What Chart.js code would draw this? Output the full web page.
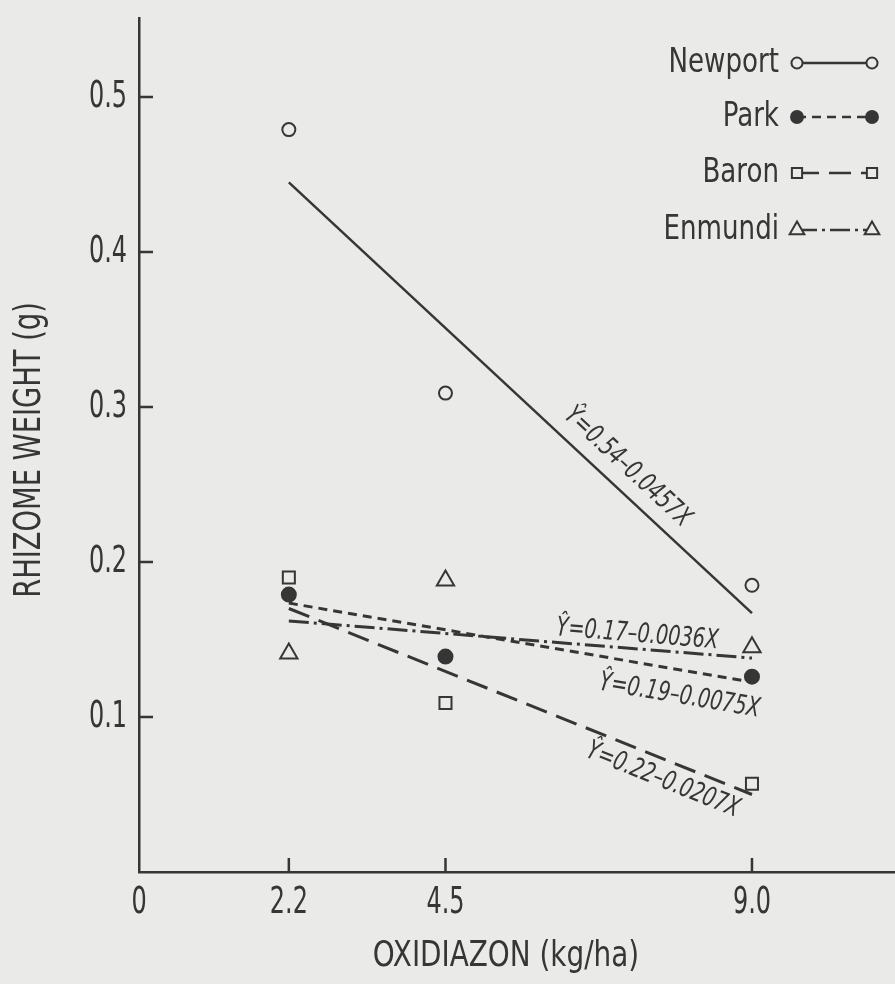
<!DOCTYPE html>
<html>
<head>
<meta charset="utf-8">
<title>Rhizome weight vs oxidiazon rate</title>
<script src="https://cdn.jsdelivr.net/npm/chart.js@4.4.1/dist/chart.umd.min.js"></script>
<style>
  html, body { margin: 0; padding: 0; background: #eaeae8; }
  #rhizome-chart { display: block; }
</style>
</head>
<body>
<canvas id="rhizome-chart" width="895" height="984"></canvas>
<script>
const cultivars = ['Newport', 'Park', 'Baron', 'Enmundi'];
const doses = [2.2, 4.5, 9.0];
const newport = [0.479, 0.309, 0.185];
const park = [0.179, 0.139, 0.126];
const baron = [0.190, 0.109, 0.057];
const enmundi = [0.141, 0.188, 0.145];

// fitted lines, as drawn between the lowest and highest rate
const fitDoses = [2.2, 9.0];
const newportFit = [0.445, 0.167];
const parkFit = [0.1735, 0.1225];
const baronFit = [0.170, 0.050];
const enmundiFit = [0.162, 0.138];
const fitLabels = ['Ŷ=0.54–0.0457X', 'Ŷ=0.19–0.0075X', 'Ŷ=0.22–0.0207X', 'Ŷ=0.17–0.0036X'];

const xTicks = [0, 2.2, 4.5, 9.0];
const xTickLabels = ['0', '2.2', '4.5', '9.0'];
const yTicks = [0.1, 0.2, 0.3, 0.4, 0.5];
const yTickLabels = ['0.1', '0.2', '0.3', '0.4', '0.5'];

const ink = '#363636';
const paper = '#eaeae8';
const fontFamily = "'Liberation Sans Narrow', 'DejaVu Sans Condensed', 'Arial Narrow', sans-serif";

Chart.defaults.font.family = fontFamily;
Chart.defaults.color = ink;

const series = [newport, park, baron, enmundi];
const fits = [newportFit, parkFit, baronFit, enmundiFit];
const marker = [
  { pointStyle: 'circle', radius: 6.5, fill: paper },
  { pointStyle: 'circle', radius: 7, fill: ink },
  { pointStyle: 'rect', radius: 8.5, fill: paper },
  { pointStyle: 'triangle', radius: 10, fill: paper },
];
const dashes = [[], [9, 6], [22, 10], [20, 5, 3, 5]];
// where the equation sits along each fit line (x value) and how far off it (px)
const labelPlace = [{ at: 6.95, off: -22 }, { at: 8.0, off: 26 }, { at: 7.8, off: 20 }, { at: 7.3, off: -14 }];

const pointSets = series.map((vals, i) => ({
  label: cultivars[i],
  data: doses.map((d, j) => ({ x: d, y: vals[j] })),
  showLine: false,
  pointStyle: marker[i].pointStyle,
  pointRadius: marker[i].radius,
  pointBackgroundColor: marker[i].fill,
  pointBorderColor: ink,
  pointBorderWidth: 2,
}));

const fitSets = fits.map((vals, i) => ({
  type: 'line',
  label: cultivars[i] + ' fit',
  data: fitDoses.map((d, j) => ({ x: d, y: vals[j] })),
  borderColor: ink,
  borderWidth: i === 0 ? 2.5 : 3,
  borderDash: dashes[i],
  pointRadius: 0,
  fill: false,
}));

// the original uses a tall condensed face; squeeze the text horizontally
function squeezed(ctx, text, x, y, size, sx, style) {
  ctx.save();
  ctx.font = (style || '') + ' ' + size + 'px ' + fontFamily;
  ctx.translate(x, y);
  ctx.scale(sx, 1);
  ctx.fillText(text, 0, 0);
  ctx.restore();
}

const decor = {
  id: 'decor',
  afterDraw(chart) {
    const { ctx, chartArea: a, scales: { x, y } } = chart;
    ctx.save();

    // tick marks point into the plot
    ctx.strokeStyle = ink;
    ctx.lineWidth = 2.5;
    ctx.beginPath();
    yTicks.forEach(v => {
      const py = y.getPixelForValue(v);
      ctx.moveTo(a.left, py);
      ctx.lineTo(a.left + 14, py);
    });
    xTicks.filter(v => v > 0).forEach(v => {
      const px = x.getPixelForValue(v);
      ctx.moveTo(px, a.bottom);
      ctx.lineTo(px, a.bottom - 14);
    });
    ctx.stroke();

    // tick labels
    ctx.fillStyle = ink;
    ctx.textBaseline = 'middle';
    ctx.textAlign = 'right';
    yTicks.forEach((v, i) => squeezed(ctx, yTickLabels[i], a.left - 12, y.getPixelForValue(v), 38, 0.7));
    ctx.textAlign = 'center';
    xTicks.forEach((v, i) => squeezed(ctx, xTickLabels[i], x.getPixelForValue(v), 903, 38, 0.7));

    // axis titles
    squeezed(ctx, 'OXIDIAZON (kg/ha)', 506, 957, 36, 0.86);
    ctx.save();
    ctx.translate(30, 450);
    ctx.rotate(-Math.PI / 2);
    squeezed(ctx, 'RHIZOME WEIGHT (g)', 0, 0, 38, 0.8);
    ctx.restore();

    // regression equations along their lines
    fits.forEach((vals, i) => {
      const x0 = x.getPixelForValue(fitDoses[0]), y0 = y.getPixelForValue(vals[0]);
      const x1 = x.getPixelForValue(fitDoses[1]), y1 = y.getPixelForValue(vals[1]);
      const t = (labelPlace[i].at - fitDoses[0]) / (fitDoses[1] - fitDoses[0]);
      ctx.save();
      ctx.translate(x0 + t * (x1 - x0), y0 + t * (y1 - y0));
      ctx.rotate(Math.atan2(y1 - y0, x1 - x0));
      squeezed(ctx, fitLabels[i], 0, labelPlace[i].off, 27, 0.8, 'italic');
      ctx.restore();
    });

    // legend: name, then marker - line - marker
    const rows = [63, 117, 173, 230];
    ctx.textAlign = 'right';
    cultivars.forEach((name, i) => {
      const ry = rows[i];
      ctx.fillStyle = ink;
      squeezed(ctx, name, 779, ry, 33, 0.88);
      ctx.save();
      ctx.setLineDash(dashes[i]);
      ctx.lineWidth = 2.5;
      ctx.beginPath();
      ctx.moveTo(797, ry);
      ctx.lineTo(872, ry);
      ctx.stroke();
      ctx.restore();
      [797, 872].forEach(mx => {
        ctx.fillStyle = marker[i].fill;
        ctx.strokeStyle = ink;
        ctx.lineWidth = 2;
        Chart.helpers.drawPoint(ctx, {
          pointStyle: marker[i].pointStyle,
          radius: marker[i].radius * 0.85,
          rotation: 0,
          borderWidth: 2,
        }, mx, ry);
      });
    });

    ctx.restore();
  }
};

function noPad(s) {
  s.paddingLeft = 0;
  s.paddingRight = 0;
  s.paddingTop = 0;
  s.paddingBottom = 0;
}

new Chart(document.getElementById('rhizome-chart'), {
  type: 'scatter',
  data: { datasets: [...pointSets, ...fitSets] },
  options: {
    responsive: false,
    animation: false,
    layout: { autoPadding: false, padding: { top: 18, right: 0, bottom: 0, left: 0 } },
    plugins: { legend: { display: false }, tooltip: { enabled: false } },
    scales: {
      x: {
        type: 'linear',
        min: 0,
        max: 11.1,
        grid: { display: false, drawTicks: false },
        border: { display: true, color: ink, width: 2.5 },
        afterBuildTicks: s => { s.ticks = xTicks.map(v => ({ value: v })); },
        afterFit: s => { s.height = 112; noPad(s); },
        ticks: { display: false },
      },
      y: {
        min: 0,
        max: 0.551,
        grid: { display: false, drawTicks: false },
        border: { display: true, color: ink, width: 2.5 },
        afterBuildTicks: s => { s.ticks = yTicks.map(v => ({ value: v })); },
        afterFit: s => { s.width = 139; noPad(s); },
        ticks: { display: false },
      },
    },
  },
  plugins: [decor],
});
</script>
</body>
</html>
